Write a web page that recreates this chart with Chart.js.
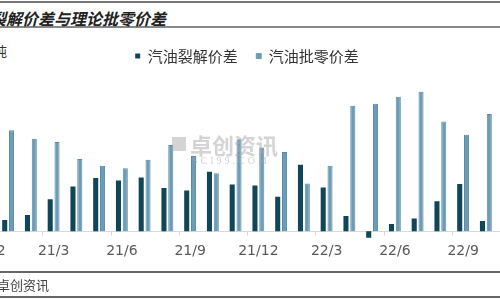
<!DOCTYPE html>
<html><head><meta charset="utf-8">
<script src="https://cdn.jsdelivr.net/npm/chart.js@4/dist/chart.umd.min.js"></script>
<style>
html,body{margin:0;padding:0;width:500px;height:300px;overflow:hidden;background:#fff;position:relative}
.ln{position:absolute;left:0;width:500px;height:2px;background:#777}
#title{position:absolute;left:-42px;top:9px;font:bold 16px "Noto Sans CJK SC";line-height:18px;color:#222;white-space:nowrap;font-style:italic}
#unit{position:absolute;right:493px;top:43px;font:13px "Noto Sans CJK SC";line-height:15px;color:#333;white-space:nowrap}
#src{position:absolute;left:-3px;top:277px;font:13px "Noto Sans CJK SC";line-height:16px;color:#444;white-space:nowrap}
#wm{position:absolute;left:172px;top:132px;color:rgba(170,170,170,0.5);white-space:nowrap;pointer-events:none;z-index:2}
#wm .a{font:bold 22px "Noto Sans CJK SC";line-height:24px;padding-left:18px}
#wm .b{font:10px "Liberation Serif";letter-spacing:3px;line-height:10px;padding-left:20px}
#wm .sq{position:absolute;left:0;top:5px;width:14px;height:14px;background:rgba(170,170,170,0.5)}
#wrap{position:absolute;left:-26px;top:30px;width:546px;height:250px}
</style></head>
<body>
<div class="ln" style="top:1px"></div>
<div class="ln" style="top:26px;background:#888"></div>
<div id="title">汽油裂解价差与理论批零价差</div>
<div id="unit">元/吨</div>
<div id="wm"><div class="sq"></div><div class="a">卓创资讯</div><div class="b">SCI99.COM</div></div>
<div id="wrap"><canvas id="c"></canvas></div>
<div class="ln" style="top:271px;background:#666"></div>
<div id="src">卓创资讯</div>
<div class="ln" style="top:296px;background:#666"></div>
<script>
const categories = ['20/12','21/1','21/2','21/3','21/4','21/5','21/6','21/7','21/8','21/9','21/10','21/11','21/12','22/1','22/2','22/3','22/4','22/5','22/6','22/7','22/8','22/9','22/10','22/11'];
const crackSpread = [null,230,330,650,910,1080,1030,1090,880,830,1210,950,930,700,1350,890,310,-130,150,260,610,960,210,null];
const wholesaleRetailSpread = [null,2050,1880,1810,1470,1330,1280,1450,1750,1530,1180,1870,1700,1610,970,1330,2550,2590,2730,2830,2230,1960,2380,null];
const seriesNames = ['汽油裂解价差','汽油批零价差'];

const baseline = {
  id:'baseline',
  beforeDatasetsDraw(chart){
    const {ctx, chartArea, scales:{x,y}} = chart;
    const y0 = Math.round(y.getPixelForValue(0))+0.5;
    ctx.save();
    ctx.strokeStyle = '#d9d9d9';
    ctx.lineWidth = 1;
    ctx.beginPath();
    ctx.moveTo(chartArea.left, y0); ctx.lineTo(chartArea.right, y0);
    const half = (x.getPixelForTick(1)-x.getPixelForTick(0))/2;
    for(let i=0;i<categories.length;i+=3){
      const px = Math.round(x.getPixelForTick(i)-half)+0.5;
      ctx.moveTo(px,y0); ctx.lineTo(px,y0+4);
    }
    ctx.stroke();
    ctx.restore();
  }
};

new Chart(document.getElementById('c'),{
  type:'bar',
  data:{labels:categories,datasets:[
    {label:seriesNames[0],data:crackSpread,backgroundColor:'#0f4658',categoryPercentage:0.6,barPercentage:0.74},
    {label:seriesNames[1],data:wholesaleRetailSpread,backgroundColor:'#6c9cb7',borderColor:'#5a8aa6',borderWidth:{left:1,right:1,top:1,bottom:0},categoryPercentage:0.6,barPercentage:0.74}
  ]},
  options:{
    responsive:true,maintainAspectRatio:false,animation:false,
    layout:{padding:{top:0,bottom:18,left:0,right:0}},
    plugins:{
      legend:{display:true,position:'top',labels:{boxWidth:5,boxHeight:5,padding:18.6,color:'#333',font:{family:'"Noto Sans CJK SC"',size:15}}},
      tooltip:{enabled:false}
    },
    scales:{
      x:{grid:{display:false,drawTicks:false,tickLength:0},border:{display:false},
         afterFit:(s)=>{s.paddingLeft=0;s.paddingRight=0;},
         ticks:{autoSkip:false,maxRotation:0,minRotation:0,padding:2,color:'#595959',font:{family:'"DejaVu Sans"',size:14},
           callback:(v,i)=> i%3===0 ? categories[i] : ''}},
      y:{display:false,min:-200,max:3200}
    }
  },
  plugins:[baseline]
});
</script>
</body></html>
